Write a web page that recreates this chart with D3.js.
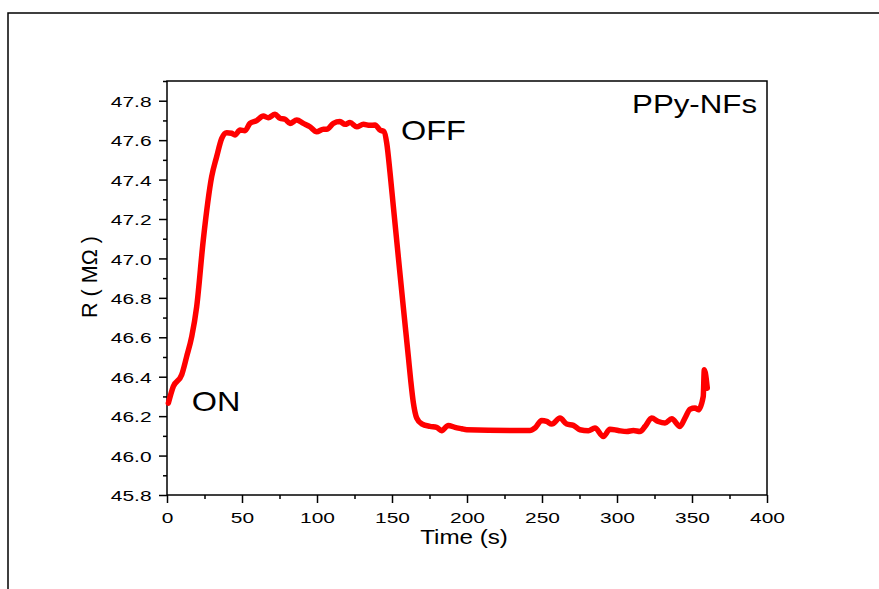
<!DOCTYPE html>
<html>
<head>
<meta charset="utf-8">
<script src="https://cdn.jsdelivr.net/npm/d3@7"></script>
<style>
  html, body { margin: 0; padding: 0; background: #fff; }
  svg { display: block; }
  text { font-family: "Liberation Sans", Arial, sans-serif; fill: #000; }
</style>
</head>
<body>
<svg id="chart" width="879" height="589"></svg>
<script>
// ---- data ----
const timeValues = [0.9, 4.2, 9.8, 13.1, 16.5, 19.8, 24.2, 29.8, 33.1, 36.5, 39.8, 43.1, 45.3, 48.7, 52, 55.3,
  59.8, 64.2, 67.5, 72, 75.3, 78.7, 82, 86.5, 90.9, 95.3, 99.8, 104.2, 106.5, 110.9, 115.3, 118.7, 122, 126.5,
  130.9, 135.3, 138.7, 142, 144.7, 146.5, 148.7, 150.9, 154.2, 157.5, 160.9, 162.5, 164.2, 166.5, 169.8, 175.3,
  179.8, 183.1, 187.5, 192, 196.5, 199.8, 242, 245.3, 249.8, 253.1, 256.5, 262, 266.5, 270.9, 275.3, 280.9,
  285.3, 290.9, 295.3, 300.9, 306.5, 310.9, 315.3, 318.7, 323.1, 327.5, 332, 336.5, 342, 345.3, 348.7, 352,
  354.2, 357.5, 358.2, 360.2];
const resistanceValues = [46.266, 46.350, 46.410, 46.502, 46.604, 46.756, 47.094, 47.415, 47.516, 47.609,
  47.638, 47.635, 47.626, 47.651, 47.648, 47.685, 47.699, 47.722, 47.714, 47.731, 47.711, 47.706, 47.685,
  47.702, 47.685, 47.668, 47.643, 47.655, 47.655, 47.685, 47.694, 47.680, 47.689, 47.668, 47.680, 47.675,
  47.677, 47.651, 47.643, 47.584, 47.434, 47.263, 47.009, 46.756, 46.502, 46.380, 46.270, 46.190, 46.161,
  46.148, 46.143, 46.126, 46.153, 46.143, 46.136, 46.131, 46.127, 46.140, 46.178, 46.173, 46.160, 46.190,
  46.160, 46.153, 46.131, 46.126, 46.140, 46.097, 46.134, 46.127, 46.122, 46.127, 46.122, 46.148, 46.190,
  46.173, 46.165, 46.187, 46.148, 46.190, 46.235, 46.241, 46.232, 46.300, 46.435, 46.342];

const xMajorTicks = [0, 50, 100, 150, 200, 250, 300, 350, 400];
const xMinorTicks = [25, 75, 125, 175, 225, 275, 325, 375];
const yMajorTicks = [45.8, 46.0, 46.2, 46.4, 46.6, 46.8, 47.0, 47.2, 47.4, 47.6, 47.8];
const yMinorTicks = [45.9, 46.1, 46.3, 46.5, 46.7, 46.9, 47.1, 47.3, 47.5, 47.7, 47.9];
const xTitle = "Time (s)";
const yTitle = "R ( MΩ )";
const seriesName = "PPy-NFs";
const annotations = [{ label: "ON", t: 16.5, r: 46.225 }, { label: "OFF", t: 156, r: 47.6 }];

// ---- layout ----
const svg = d3.select("#chart");
const plot = { left: 167, right: 767, top: 81, bottom: 495 };
const x = d3.scaleLinear().domain([0, 400]).range([plot.left, plot.right]);
const y = d3.scaleLinear().domain([45.8, 47.9]).range([plot.bottom, plot.top]);

function sText(parent, px, py, str, fs, sx, anchor) {
  return parent.append("text")
    .attr("transform", `translate(${px},${py}) scale(${sx},1)`)
    .attr("text-anchor", anchor || "start")
    .attr("font-size", fs)
    .text(str);
}

// outer frame (extends beyond the window on the right/bottom)
svg.append("rect")
  .attr("x", 8).attr("y", 13).attr("width", 1000).attr("height", 1000)
  .attr("fill", "none").attr("stroke", "#000").attr("stroke-width", 1.5);

// plot box
svg.append("rect")
  .attr("x", plot.left).attr("y", plot.top)
  .attr("width", plot.right - plot.left).attr("height", plot.bottom - plot.top)
  .attr("fill", "none").attr("stroke", "#000").attr("stroke-width", 1.5);

const tickSx = 1.35, tickFs = 15.5;

// y axis
const gy = svg.append("g").attr("transform", `translate(${plot.left},0)`);
gy.call(d3.axisLeft(y).tickValues(yMajorTicks).tickSize(8).tickFormat(d3.format(".1f")));
gy.append("g").call(d3.axisLeft(y).tickValues(yMinorTicks).tickSize(4).tickFormat(""));
gy.selectAll("path.domain").remove();
gy.selectAll("line").attr("stroke", "#000").attr("stroke-width", 1.5);
gy.selectAll("text")
  .attr("font-family", "Liberation Sans, Arial, sans-serif")
  .attr("font-size", tickFs).attr("fill", "#000")
  .attr("x", -15.5 / tickSx).attr("dy", "0.36em")
  .attr("transform", `scale(${tickSx},1)`);

// x axis
const gx = svg.append("g").attr("transform", `translate(0,${plot.bottom})`);
gx.call(d3.axisBottom(x).tickValues(xMajorTicks).tickSize(8).tickFormat(d3.format("d")));
gx.append("g").call(d3.axisBottom(x).tickValues(xMinorTicks).tickSize(4).tickFormat(""));
gx.selectAll("path.domain").remove();
gx.selectAll("line").attr("stroke", "#000").attr("stroke-width", 1.5);
gx.selectAll(".tick text")
  .attr("font-family", "Liberation Sans, Arial, sans-serif")
  .attr("font-size", tickFs).attr("fill", "#000")
  .attr("x", 0).attr("y", 28).attr("dy", 0)
  .attr("transform", `scale(${tickSx},1)`);

// axis titles
sText(svg, (plot.left + plot.right) / 2 - 3, 544, xTitle, 20.5, 1.18, "middle");
svg.append("text")
  .attr("transform", `translate(97,277) rotate(-90)`)
  .attr("text-anchor", "middle")
  .attr("font-size", 21.5)
  .text(yTitle);

// data line
const pts = timeValues.map((t, i) => [t, resistanceValues[i]]);
svg.append("path")
  .datum(pts)
  .attr("fill", "none")
  .attr("stroke", "#ff0000")
  .attr("stroke-width", 5.5)
  .attr("stroke-linejoin", "round")
  .attr("stroke-linecap", "round")
  .attr("d", d3.line().x(d => x(d[0])).y(d => y(d[1])).curve(d3.curveMonotoneX));

// annotations
annotations.forEach(a => {
  sText(svg, x(a.t), y(a.r), a.label, 27, 1.2, "start");
});
sText(svg, 757, 113, seriesName, 25, 1.25, "end");
</script>
</body>
</html>
